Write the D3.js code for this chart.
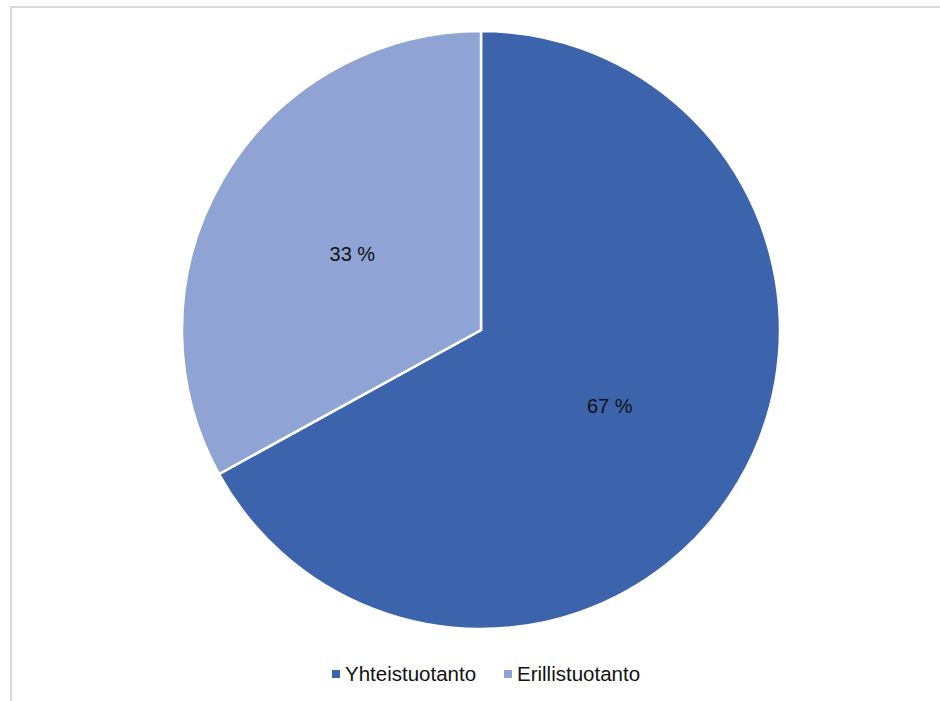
<!DOCTYPE html>
<html>
<head>
<meta charset="utf-8">
<script src="https://cdn.jsdelivr.net/npm/d3@7"></script>
<style>
  html, body { margin: 0; padding: 0; background: #fff; }
  svg { display: block; font-family: "Liberation Sans", Arial, sans-serif; }
</style>
</head>
<body>
<div id="chart"></div>
<script>
// Pie: share of production types
const categories = ['Yhteistuotanto', 'Erillistuotanto'];
const values = [67, 33];
const labels = ['67 %', '33 %'];
const colors = ['#3c64ac', '#8fa3d4'];

const width = 940, height = 701;
const cx = 481, cy = 330, radius = 299;

const svg = d3.select('#chart').append('svg')
  .attr('width', width).attr('height', height)
  .attr('viewBox', `0 0 ${width} ${height}`);

// chart frame (only top/left edges visible in the crop)
svg.append('path')
  .attr('d', `M11,${height} L11,7 L${width},7`)
  .attr('fill', 'none').attr('stroke', '#d9d9d9').attr('stroke-width', 2);

const data = categories.map((c, i) => ({ name: c, value: values[i], label: labels[i], color: colors[i] }));

const pie = d3.pie().value((d) => d.value).sort(null);
const arc = d3.arc().innerRadius(0).outerRadius(radius);
const labelArc = d3.arc().innerRadius(radius * 0.5).outerRadius(radius * 0.5);

const g = svg.append('g').attr('transform', `translate(${cx},${cy})`);
const arcs = pie(data);

g.selectAll('path.slice')
  .data(arcs)
  .join('path')
  .attr('class', 'slice')
  .attr('d', arc)
  .attr('fill', (d) => d.data.color)
  .attr('stroke', '#fff')
  .attr('stroke-width', 2.5);

g.selectAll('text.lbl')
  .data(arcs)
  .join('text')
  .attr('class', 'lbl')
  .attr('transform', (d) => `translate(${labelArc.centroid(d)})`)
  .attr('text-anchor', 'middle')
  .attr('dy', '0.35em')
  .attr('font-size', 20)
  .attr('fill', '#111')
  .text((d) => d.data.label);

// legend
const legendX = [332, 504];
const legend = svg.append('g');
const item = legend.selectAll('g')
  .data(data)
  .join('g')
  .attr('transform', (d, i) => `translate(${legendX[i]},674)`);
item.append('rect')
  .attr('x', 0).attr('y', -4).attr('width', 8).attr('height', 8)
  .attr('fill', (d) => d.color);
item.append('text')
  .attr('x', 13).attr('y', 0).attr('dy', '0.35em')
  .attr('font-size', 20.5)
  .attr('fill', '#111')
  .text((d) => d.name);
</script>
</body>
</html>
